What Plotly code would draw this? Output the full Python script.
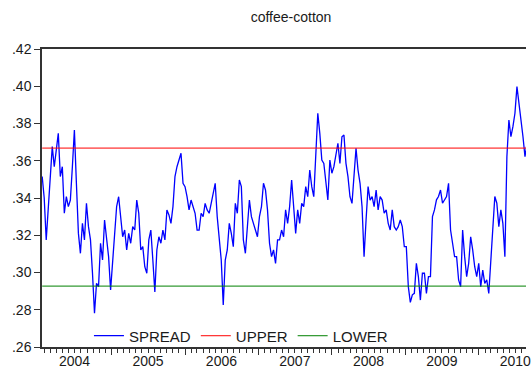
import pandas as pd
import plotly.graph_objects as go

title_text = "coffee-cotton"
series_names = ["SPREAD", "UPPER", "LOWER"]

# spread sampled every 10 days starting 2004-01-22
spread = [
    .3515, .3400, .3175, .3354, .3515, .3676, .3568, .3658, .3747, .3515,
    .3568, .3318, .3407, .3354, .3389, .3568, .3765, .3479, .3210, .3103,
    .3264, .3175, .3371, .3246, .3175, .2996, .2781, .2942, .2924, .3157,
    .3067, .3282, .3175, .3085, .2906, .3067, .3246, .3354, .3407, .3300,
    .3192, .3228, .3121, .3210, .3157, .3246, .3228, .3389, .3318, .3121,
    .3139, .3031, .2996, .3175, .3228, .3067, .2895, .3121, .3192, .3157,
    .3228, .3175, .3336, .3309, .3264, .3354, .3515, .3568, .3604, .3640,
    .3479, .3461, .3407, .3336, .3389, .3354, .3318, .3228, .3228, .3318,
    .3300, .3371, .3336, .3318, .3371, .3407, .3479, .3300, .3157, .3067,
    .2826, .3067, .3121, .3264, .3210, .3139, .3371, .3318, .3497, .3461,
    .3175, .3103, .3246, .3389, .3300, .3264, .3228, .3192, .3300, .3354,
    .3479, .3443, .3336, .3157, .3085, .3121, .3049, .3175, .3175, .3228,
    .3192, .3336, .3264, .3354, .3497, .3354, .3210, .3336, .3264, .3371,
    .3354, .3461, .3407, .3550, .3461, .3407, .3604, .3855, .3747, .3604,
    .3586, .3497, .3389, .3604, .3533, .3568, .3640, .3694, .3586, .3729,
    .3738, .3586, .3515, .3407, .3371, .3515, .3667, .3550, .3479, .3354,
    .3085, .3282, .3461, .3389, .3407, .3354, .3443, .3336, .3407, .3389,
    .3318, .3336, .3264, .3228, .3336, .3246, .3228, .3246, .3282, .3246,
    .3139, .3139, .2924, .2840, .2880, .2888, .3049, .2978, .2852, .2996,
    .2996, .2888, .2978, .2978, .3300, .3336, .3390, .3408, .3443, .3372,
    .3390, .3408, .3479, .3228, .3157, .3085, .3085, .2960, .2924, .3228,
    .3085, .2978, .3049, .3192, .3121, .3031, .2978, .3049, .2924, .3013,
    .2942, .2960, .2888, .3085, .3282, .3408, .3372, .3246, .3336, .3264,
    .3085, .3622, .3819, .3729, .3783, .3855, .3998, .3908, .3837, .3729,
    .3622, .3693,
]
upper_value = 0.3668
lower_value = 0.2927

y_tick_values = [0.26, 0.28, 0.30, 0.32, 0.34, 0.36, 0.38, 0.40, 0.42]
y_tick_labels = [".26", ".28", ".30", ".32", ".34", ".36", ".38", ".40", ".42"]

year_labels = ["2004", "2005", "2006", "2007", "2008", "2009", "2010"]
year_label_dates = [y + "-07-01" for y in year_labels]
year_boundaries = [y + "-01-01" for y in year_labels[1:]]

dates = pd.date_range("2004-01-22", periods=len(spread), freq="10D")
x_start = "2004-01-21"
x_end = "2010-08-23"

FONT = "Liberation Sans, Arial, sans-serif"
AXC = "#333333"

fig = go.Figure()
fig.add_trace(go.Scatter(x=dates, y=spread, mode="lines", name=series_names[0],
                         line=dict(color="#0000FF", width=1.3)))
fig.add_trace(go.Scatter(x=[dates[0], dates[-1]], y=[upper_value, upper_value], mode="lines",
                         name=series_names[1], line=dict(color="#FF0000", width=1)))
fig.add_trace(go.Scatter(x=[dates[0], dates[-1]], y=[lower_value, lower_value], mode="lines",
                         name=series_names[2], line=dict(color="#008000", width=1),
                         xaxis="x2"))

fig.update_layout(
    width=531, height=372,
    margin=dict(l=42, r=0, t=49, b=25),
    paper_bgcolor="white", plot_bgcolor="white",
    font=dict(family=FONT, size=14, color="#1a1a1a"),
    title=dict(text=title_text, x=291/531, xref="container", xanchor="center",
               y=1 - 17/372, yref="container", yanchor="middle",
               font=dict(family=FONT, size=14, color="#1a1a1a")),
    showlegend=True,
    legend=dict(orientation="h", x=0.097, xanchor="left", y=0.037, yanchor="middle",
                bgcolor="rgba(0,0,0,0)", font=dict(family=FONT, size=15, color="#1a1a1a")),
    xaxis=dict(type="date", range=[x_start, x_end],
               tickmode="array", tickvals=year_label_dates, ticktext=year_labels,
               ticks="", ticklen=8, ticklabeloverflow="allow",
               showgrid=False, zeroline=False,
               showline=True, linecolor=AXC, linewidth=1.5, mirror=True,
               minor=dict(tick0="2004-01-01", dtick="M1", ticks="outside", ticklen=4,
                          tickcolor=AXC, showgrid=False)),
    xaxis2=dict(type="date", range=[x_start, x_end], overlaying="x", side="bottom",
                matches="x", tickmode="array", tickvals=year_boundaries,
                ticks="outside", ticklen=7, tickcolor=AXC, tickwidth=1,
                showticklabels=False, showgrid=False, zeroline=False, showline=False),
    yaxis=dict(range=[0.26, 0.42], tickvals=y_tick_values, ticktext=y_tick_labels,
               ticks="outside", ticklen=6, tickcolor=AXC, showgrid=False, zeroline=False,
               showline=True, linecolor=AXC, linewidth=1.5),
)

fig.write_html("out.html")
